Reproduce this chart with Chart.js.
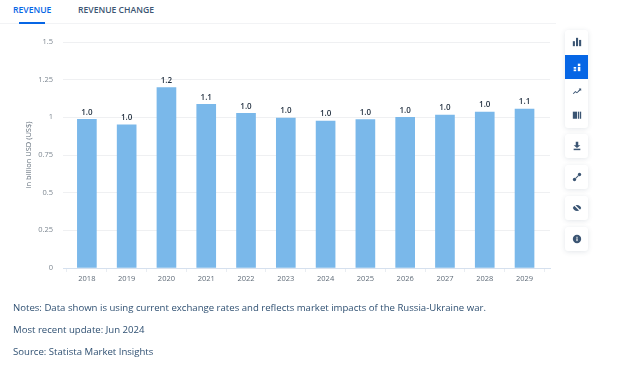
<!DOCTYPE html>
<html>
<head>
<meta charset="utf-8">
<title>Revenue</title>
<script src="https://cdn.jsdelivr.net/npm/chart.js@4"></script>
<style>
  html, body { margin: 0; padding: 0; background: #fff; }
  body { width: 631px; height: 365px; position: relative; overflow: hidden; font-family: "Open Sans", sans-serif; }
  canvas { position: absolute; left: 0; top: 0; }
  .tab { position: absolute; top: 3px; font-size: 8.6px; line-height: 14px; font-weight: 600; color: #3b5573; white-space: nowrap; }
  .tab.active { color: #0666e5; }
  #tabline { position: absolute; left: 0; top: 23px; width: 556px; height: 1px; background: #f2f3f5; }
  #tabmark { position: absolute; left: 19px; top: 22px; width: 26px; height: 2px; background: #0666e5; }
  .note { position: absolute; left: 13px; font-size: 9.6px; line-height: 14px; color: #2f5072; white-space: nowrap; }
  .card { position: absolute; left: 565px; width: 23px; background: #fff; border-radius: 3px; box-shadow: 0 1px 5px rgba(40, 60, 90, 0.13); }
  .btn { position: absolute; left: 565px; width: 23px; height: 24px; }
  .btn svg { position: absolute; left: 6.500px; top: 7px; width: 10px; height: 10px; fill: #3b5573; stroke: none; }
  .btn.active { background: #0666e5; }
  .btn.active svg { fill: #fff; }
</style>
</head>
<body>
<div class="tab active" style="left:13px">REVENUE</div>
<div class="tab" style="left:78px">REVENUE CHANGE</div>
<div id="tabline"></div>
<div id="tabmark"></div>
<canvas id="chart" width="631" height="365"></canvas>

<div class="card" style="top:30px;height:98px"></div>
<div class="btn" style="top:30px"><svg viewBox="0 0 12 12"><rect x="1" y="5" width="2.5" height="6"/><rect x="4.8" y="1" width="2.5" height="10"/><rect x="8.5" y="3.5" width="2.5" height="7.5"/></svg></div>
<div class="btn active" style="top:55px"><svg viewBox="0 0 12 12"><rect x="2" y="6" width="3" height="2"/><rect x="2" y="9" width="3" height="2"/><rect x="7" y="2" width="3" height="3"/><rect x="7" y="6" width="3" height="5"/></svg></div>
<div class="btn" style="top:79px"><svg viewBox="0 0 12 12"><path d="M1 9l3-3 2 1.5L9 4 8 3h3v3l-1-1-4 3.8L4 7.5 2 9.6z"/></svg></div>
<div class="btn" style="top:103px"><svg viewBox="0 0 12 12"><rect x="1" y="2" width="5" height="8.5"/><rect x="7" y="2" width="1.6" height="8.5"/><rect x="9.4" y="2" width="1.6" height="8.5"/></svg></div>
<div class="card" style="top:134px;height:24px"></div>
<div class="btn" style="top:134px"><svg viewBox="0 0 12 12"><path d="M4.5 1h3v4H10L6 8.5 2 5h2.5z"/><rect x="2" y="9.2" width="8" height="1.8"/></svg></div>
<div class="card" style="top:165px;height:24px"></div>
<div class="btn" style="top:165px"><svg viewBox="0 0 12 12"><circle cx="9" cy="3" r="2"/><circle cx="3" cy="9" r="2"/><path d="M4 7.3L7.3 4l.7.7L4.7 8z"/></svg></div>
<div class="card" style="top:196px;height:24px"></div>
<div class="btn" style="top:196px"><svg viewBox="0 0 12 12"><path d="M6 2.5c2.6 0 4.3 1.800 5 3.500-.7 1.700-2.400 3.500-5 3.500S1.700 7.700 1 6c.7-1.700 2.400-3.500 5-3.500z"/><path d="M2 1.500l9 9" stroke="#fff" stroke-width="1.400"/></svg></div>
<div class="card" style="top:227px;height:24px"></div>
<div class="btn" style="top:227px"><svg viewBox="0 0 12 12"><path d="M6 1a5 5 0 1 0 0 10A5 5 0 0 0 6 1z"/><rect x="5.300" y="5.200" width="1.400" height="3.300" fill="#fff"/><rect x="5.300" y="3.300" width="1.400" height="1.300" fill="#fff"/></svg></div>

<div class="note" style="top:301px">Notes: Data shown is using current exchange rates and reflects market impacts of the Russia-Ukraine war.</div>
<div class="note" style="top:323px">Most recent update: Jun 2024</div>
<div class="note" style="top:345px">Source: Statista Market Insights</div>

<script>
var years = [2018, 2019, 2020, 2021, 2022, 2023, 2024, 2025, 2026, 2027, 2028, 2029];
var revenue = [0.987, 0.951, 1.197, 1.087, 1.027, 0.995, 0.975, 0.985, 1.0, 1.015, 1.035, 1.055];
var yTicks = [0, 0.25, 0.5, 0.75, 1, 1.25, 1.5];
var yTitle = 'in billion USD (US$)';

// value labels above the bars
var barLabels = {
  id: 'barLabels',
  afterDatasetsDraw: function (chart) {
    var ctx = chart.ctx;
    var meta = chart.getDatasetMeta(0);
    ctx.save();
    ctx.font = '600 8px "Open Sans"';
    ctx.fillStyle = '#1f2d3d';
    ctx.textAlign = 'center';
    ctx.textBaseline = 'bottom';
    meta.data.forEach(function (bar, i) {
      ctx.fillText(revenue[i].toFixed(1), bar.x, bar.y - 3);
    });
    ctx.restore();
  }
};

new Chart(document.getElementById('chart'), {
  type: 'bar',
  plugins: [barLabels],
  data: {
    datasets: [{
      data: years.map(function (y, i) { return {x: y, y: revenue[i]}; }),
      backgroundColor: '#7ab8ea',
      barThickness: 19
    }]
  },
  options: {
    responsive: false,
    animation: false,
    layout: {padding: {left: 24, right: 81, top: 42, bottom: 77}},
    plugins: {legend: {display: false}, tooltip: {enabled: false}},
    scales: {
      x: {
        type: 'linear',
        min: 2017.4,
        max: 2029.64,
        offset: false,
        afterBuildTicks: function (scale) {
          scale.ticks = years.map(function (y) { return {value: y}; });
        },
        afterFit: function (scale) { scale.height = 20; },
        grid: {drawOnChartArea: false, drawTicks: true, tickLength: 4, color: '#e9edf2'},
        border: {color: '#d5e0ee'},
        ticks: {
          autoSkip: false,
          maxRotation: 0,
          padding: 2,
          color: '#5f6b78',
          font: {family: '"Open Sans"', size: 7.5},
          callback: function (v) { return String(v); }
        }
      },
      y: {
        min: 0,
        max: 1.5,
        afterBuildTicks: function (scale) {
          scale.ticks = yTicks.map(function (v) { return {value: v}; });
        },
        afterFit: function (scale) { scale.width = 39; },
        grid: {color: '#eff0f2', drawTicks: false},
        border: {display: false},
        title: {display: true, text: yTitle, color: '#5f6b78', padding: 0, font: {family: '"Open Sans"', size: 7.5}},
        ticks: {
          padding: 10,
          color: '#7d8791',
          font: {family: '"Open Sans"', size: 7.5},
          callback: function (v) { return String(v); }
        }
      }
    }
  }
});
</script>
</body>
</html>
